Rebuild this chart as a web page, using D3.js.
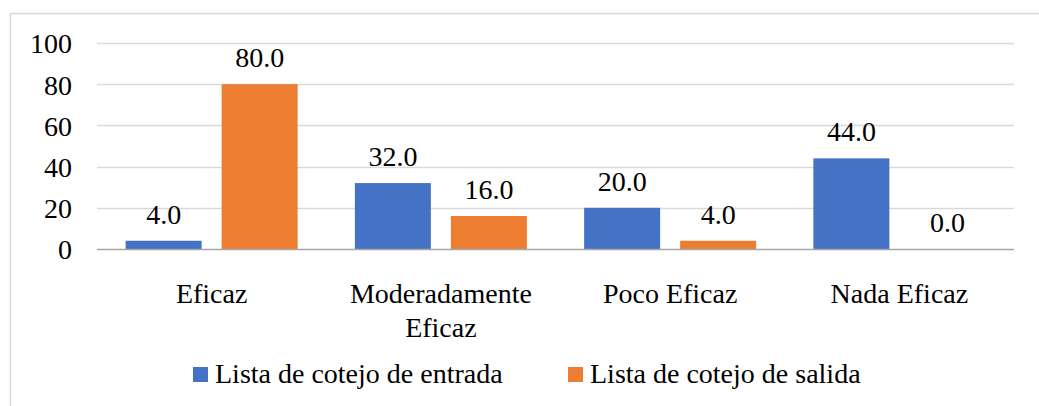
<!DOCTYPE html>
<html>
<head>
<meta charset="utf-8">
<script src="https://cdn.jsdelivr.net/npm/d3@7"></script>
<style>
  html, body { margin: 0; padding: 0; background: #fff; }
  svg text { font-family: "Liberation Serif", "Times New Roman", Times, "Tinos", "DejaVu Serif", serif !important; fill: #000; }
</style>
</head>
<body>
<svg id="chart" width="1039" height="406"></svg>
<script>
const categories = [["Eficaz"], ["Moderadamente", "Eficaz"], ["Poco Eficaz"], ["Nada Eficaz"]];
const seriesNames = ["Lista de cotejo de entrada", "Lista de cotejo de salida"];
const entrada = [4.0, 32.0, 20.0, 44.0];
const salida = [80.0, 16.0, 4.0, 0.0];
const yTicks = [0, 20, 40, 60, 80, 100];
const colors = ["#4472C4", "#ED7D31"];

(function () {
const svg = d3.select("#chart");
const pL = 97, pR = 1014, pT = 43, pB = 249;
const fs = 28;
const ff = '"Liberation Serif", "Times New Roman", Times, Tinos, "DejaVu Serif", serif';

// outer border
svg.append("rect").attr("x", 10.5).attr("y", 13.5).attr("width", 1100).attr("height", 500)
  .attr("fill", "none").attr("stroke", "#d9d9d9").attr("stroke-width", 1.5);

const x0 = d3.scaleBand().domain(d3.range(categories.length)).range([pL, pR]);
const x1 = d3.scaleBand().domain([0, 1]).range([-86, 86]).paddingInner(20 / 96);
const y = d3.scaleLinear().domain([0, 100]).range([pB, pT]);

// gridlines
svg.append("g").selectAll("line").data(yTicks.filter(t => t !== 0)).join("line")
  .attr("x1", pL).attr("x2", pR)
  .attr("y1", d => Math.round(y(d)) + 0.5).attr("y2", d => Math.round(y(d)) + 0.5)
  .attr("stroke", "#d9d9d9").attr("stroke-width", 1.5);

// y axis labels
const yAxis = d3.axisLeft(y).tickValues(yTicks).tickSize(0).tickPadding(0);
const ya = svg.append("g").attr("transform", `translate(72,0)`).call(yAxis)
  .attr("font-family", ff).attr("font-size", fs);
ya.select(".domain").remove();
ya.selectAll("text").attr("fill", "#000").attr("dy", "0.35em");

const data = categories.map((c, i) => ({ i, vals: [entrada[i], salida[i]] }));

const groups = svg.append("g").attr("font-family", ff).selectAll("g").data(data).join("g")
  .attr("transform", d => `translate(${x0(d.i) + x0.bandwidth() / 2},0)`);

groups.selectAll("rect").data(d => d.vals.map((v, s) => ({ v, s }))).join("rect")
  .attr("x", d => x1(d.s)).attr("width", x1.bandwidth())
  .attr("y", d => y(d.v)).attr("height", d => y(0) - y(d.v))
  .attr("fill", d => colors[d.s]);

groups.selectAll("text.lbl").data(d => d.vals.map((v, s) => ({ v, s }))).join("text")
  .attr("class", "lbl")
  .attr("x", d => x1(d.s) + x1.bandwidth() / 2)
  .attr("y", d => y(d.v) - 17)
  .attr("text-anchor", "middle").attr("font-size", fs)
  .text(d => d3.format(".1f")(d.v));

// baseline
svg.append("line").attr("x1", pL).attr("x2", pR)
  .attr("y1", pB + 0.5).attr("y2", pB + 0.5)
  .attr("stroke", "#a6a6a6").attr("stroke-width", 1.5);

// category labels
const xAxis = d3.axisBottom(x0).tickSize(0).tickFormat("");
svg.append("g").attr("transform", `translate(0,${pB})`).call(xAxis).select(".domain").remove();

groups.append("text").attr("text-anchor", "middle").attr("font-size", fs)
  .selectAll("tspan").data(d => categories[d.i]).join("tspan")
  .attr("x", 0).attr("y", (d, k) => 303 + k * 34).text(d => d);

// legend
const legendItems = [{ x: 193, name: seriesNames[0], c: colors[0] }, { x: 568, name: seriesNames[1], c: colors[1] }];
const lg = svg.append("g").attr("font-family", ff).selectAll("g").data(legendItems).join("g")
  .attr("transform", d => `translate(${d.x},0)`);
lg.append("rect").attr("x", 0).attr("y", 367).attr("width", 15).attr("height", 15).attr("fill", d => d.c);
lg.append("text").attr("x", 22).attr("y", 383).attr("font-size", fs).text(d => d.name);
})();
</script>
</body>
</html>
